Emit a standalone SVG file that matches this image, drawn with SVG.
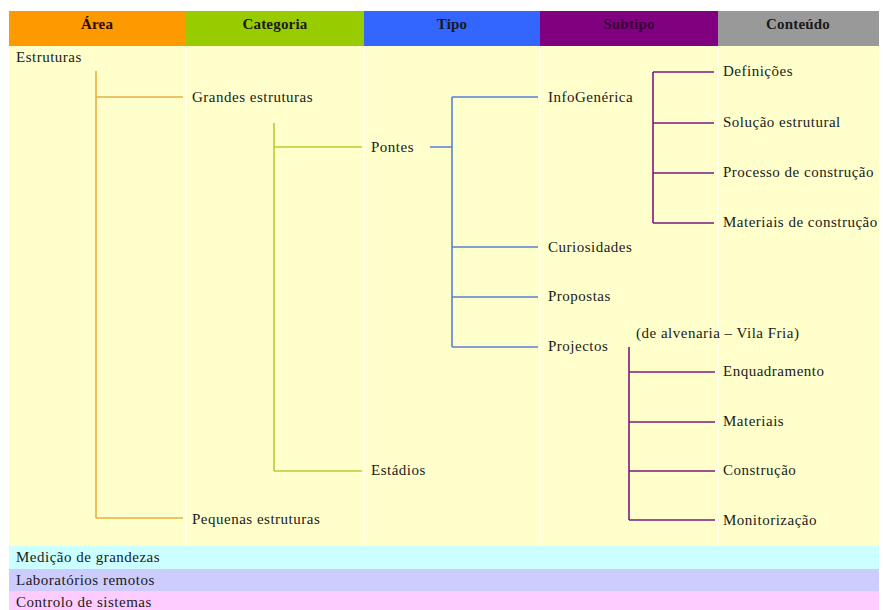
<svg xmlns="http://www.w3.org/2000/svg" width="883" height="610" viewBox="0 0 883 610">
<style>
.o{stroke:#e8b040;stroke-width:1.6;fill:none}
.g{stroke:#b4cf30;stroke-width:1.6;fill:none}
.b{stroke:#5a80d8;stroke-width:1.6;fill:none}
.p{stroke:#7e1a7e;stroke-width:1.6;fill:none}
.sep{stroke:#ffffff;stroke-opacity:0.55;stroke-width:2}
</style>
<rect width="883" height="610" fill="#ffffff"/>
<g id="header">
<rect x="9" y="11" width="177" height="35" fill="#ff9900"/>
<rect x="186" y="11" width="178" height="35" fill="#99cc00"/>
<rect x="364" y="11" width="176" height="35" fill="#3366ff"/>
<rect x="540" y="11" width="178" height="35" fill="#800080"/>
<rect x="718" y="11" width="161" height="35" fill="#999999"/>
<g font-family="Liberation Serif, serif" font-size="15" font-weight="bold" text-anchor="middle" letter-spacing="0.2" fill="#1a1a1a">
<text x="97" y="29" fill="#2a0a00">Área</text>
<text x="275" y="29">Categoria</text>
<text x="452" y="29">Tipo</text>
<text x="629" y="29" fill="#3a003a">Subtipo</text>
<text x="798" y="29">Conteúdo</text>
</g>
</g>
<g id="body">
<rect x="9" y="46" width="870" height="500" fill="#ffffcc"/>
<line class="sep" x1="186" y1="46" x2="186" y2="546"/>
<line class="sep" x1="364" y1="46" x2="364" y2="546"/>
<line class="sep" x1="540" y1="46" x2="540" y2="546"/>
<line class="sep" x1="718" y1="46" x2="718" y2="546"/>
</g>
<g id="connectors">
<path class="o" d="M96 71V518M96 97H183M96 518H183"/>
<path class="g" d="M274 123V471M274 147H362M274 471H362"/>
<path class="b" d="M430 147H452M452 97V347M452 97H538M452 247H538M452 297H538M452 347H538"/>
<path class="p" d="M653 72V223M653 72H714M653 123H714M653 173H714M653 223H714"/>
<path class="p" d="M629 347V520M629 372H715M629 422H715M629 471H715M629 520H715"/>
</g>
<g font-family="Liberation Serif, serif" font-size="15" letter-spacing="0.5" fill="#1a1a1a">
<g id="n-estruturas"><text x="16" y="62">Estruturas</text></g>
<g id="n-grandes"><text x="192" y="102">Grandes estruturas</text></g>
<g id="n-pequenas"><text x="192" y="524">Pequenas estruturas</text></g>
<g id="n-pontes"><text x="371" y="152">Pontes</text></g>
<g id="n-estadios"><text x="371" y="475">Estádios</text></g>
<g id="n-infogenerica"><text x="548" y="102">InfoGenérica</text></g>
<g id="n-curiosidades"><text x="548" y="252">Curiosidades</text></g>
<g id="n-propostas"><text x="548" y="301">Propostas</text></g>
<g id="n-projectos"><text x="548" y="351">Projectos</text></g>
<g id="n-definicoes"><text x="723" y="76">Definições</text></g>
<g id="n-solucao"><text x="723" y="127">Solução estrutural</text></g>
<g id="n-processo"><text x="723" y="177">Processo de construção</text></g>
<g id="n-materiais-c"><text x="723" y="227">Materiais de construção</text></g>
<g id="n-vilafria"><text x="636" y="338">(de alvenaria – Vila Fria)</text></g>
<g id="n-enquadramento"><text x="723" y="376">Enquadramento</text></g>
<g id="n-materiais"><text x="723" y="426">Materiais</text></g>
<g id="n-construcao"><text x="723" y="475">Construção</text></g>
<g id="n-monitorizacao"><text x="723" y="525">Monitorização</text></g>
<g id="n-medicao"><rect x="9" y="546" width="870" height="23" fill="#ccffff"/><text x="16" y="562">Medição de grandezas</text></g>
<g id="n-laboratorios"><rect x="9" y="569" width="870" height="22" fill="#ccccff"/><text x="16" y="585">Laboratórios remotos</text></g>
<g id="n-controlo"><rect x="9" y="591" width="870" height="19" fill="#ffccff"/><text x="16" y="607">Controlo de sistemas</text></g>
</g>
</svg>
